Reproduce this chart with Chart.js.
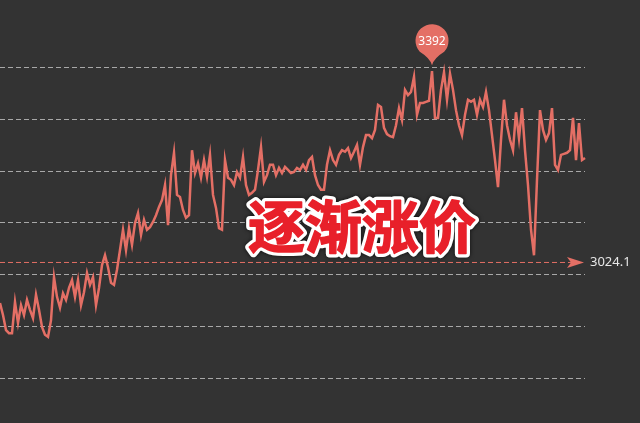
<!DOCTYPE html>
<html>
<head>
<meta charset="utf-8">
<script src="https://cdn.jsdelivr.net/npm/chart.js@4.4.1/dist/chart.umd.min.js"></script>
<style>
  html, body { margin: 0; padding: 0; background: #333333; }
  #wrap { width: 640px; height: 423px; position: relative; }
</style>
</head>
<body>
<div id="wrap"><canvas id="chart"></canvas></div>
<script>
// daily prices
const prices = [
  2946, 2923, 2894, 2888, 2888, 2948, 2908, 2942, 2923, 2952,
  2933, 2917, 2962, 2933, 2900, 2885, 2881, 2913, 2996, 2958,
  2937, 2965, 2952, 2975, 2990, 2958, 2990, 2942, 2967, 3004,
  2981, 2996, 2942, 2975, 3019, 3038, 3015, 2985, 2981, 3010,
  3048, 3087, 3048, 3090, 3058, 3100, 3119, 3077, 3106, 3087,
  3092, 3102, 3115, 3131, 3144, 3173, 3096, 3192, 3235, 3154,
  3150, 3125, 3110, 3115, 3240, 3196, 3215, 3187, 3221, 3189,
  3231, 3154, 3129, 3090, 3087, 3221, 3187, 3183, 3173, 3198,
  3187, 3227, 3173, 3154, 3158, 3164, 3202, 3246, 3179, 3192,
  3212, 3212, 3192, 3206, 3196, 3208, 3202, 3196, 3198, 3206,
  3202, 3212, 3202, 3221, 3227, 3192, 3173, 3164, 3164, 3212,
  3240, 3221, 3212, 3231, 3240, 3237, 3244, 3225, 3237, 3250,
  3212, 3246, 3269, 3269, 3263, 3279, 3327, 3323, 3283, 3271,
  3267, 3265, 3288, 3321, 3298, 3356, 3346, 3352, 3381, 3308,
  3331, 3331, 3333, 3335, 3392, 3302, 3302, 3356, 3390, 3337,
  3387, 3356, 3317, 3288, 3269, 3308, 3337, 3333, 3337, 3308,
  3337, 3323, 3352, 3317, 3269, 3221, 3169, 3260, 3337, 3288,
  3260, 3240, 3313, 3263, 3321, 3240, 3173, 3087, 3038, 3183,
  3317, 3279, 3260, 3273, 3321, 3212, 3202, 3231, 3233, 3235,
  3240, 3302, 3221, 3292, 3221, 3225,
];
const days = prices.map((_, i) => String(i + 1));
const gridTicks = [2800, 2900, 3000, 3100, 3200, 3300, 3400];
const averagePrice = 3024.1;
const titleText = "逐渐涨价";

const lineColor = "#e46f65";

const overlayPlugin = {
  id: "overlay",
  beforeDraw(chart) {
    const { ctx, width, height } = chart;
    ctx.save();
    ctx.fillStyle = "#333333";
    ctx.fillRect(0, 0, width, height);
    ctx.restore();
  },
  afterDatasetsDraw(chart) {
    const { ctx, chartArea, scales } = chart;
    const x = scales.x;
    const y = scales.y;

    // average line with arrow
    const ay = y.getPixelForValue(averagePrice);
    ctx.save();
    ctx.strokeStyle = lineColor;
    ctx.lineWidth = 1;
    ctx.setLineDash([5, 3]);
    ctx.beginPath();
    ctx.moveTo(chartArea.left, ay);
    ctx.lineTo(chartArea.right - 14, ay);
    ctx.stroke();
    ctx.setLineDash([]);
    const tip = chartArea.right - 1;
    ctx.fillStyle = lineColor;
    ctx.beginPath();
    ctx.moveTo(tip, ay);
    ctx.lineTo(tip - 17, ay - 5.5);
    ctx.lineTo(tip - 13, ay);
    ctx.lineTo(tip - 17, ay + 5.5);
    ctx.closePath();
    ctx.fill();
    ctx.fillStyle = "#e6e6e6";
    ctx.font = "13px 'Noto Sans', sans-serif";
    ctx.textBaseline = "middle";
    ctx.textAlign = "left";
    ctx.fillText(String(averagePrice), tip + 6, ay);
    ctx.restore();

    // max pin
    const maxVal = Math.max(...prices);
    const maxIdx = prices.indexOf(maxVal);
    const px = x.getPixelForValue(maxIdx);
    const ty = y.getPixelForValue(maxVal) - 6;
    const r = 16.5;
    const cy = ty - 24.5;
    const th = Math.acos(r / (ty - cy));
    ctx.save();
    ctx.fillStyle = lineColor;
    ctx.beginPath();
    ctx.arc(px, cy, r, Math.PI / 2 + th, Math.PI * 2.5 - th);
    const rx = px + r * Math.cos(Math.PI / 2 - th);
    const ry = cy + r * Math.sin(Math.PI / 2 - th);
    ctx.quadraticCurveTo(px + 2, ty - 7, px, ty);
    ctx.quadraticCurveTo(px - 2, ty - 7, px - (rx - px), ry);
    ctx.closePath();
    ctx.fill();
    ctx.fillStyle = "#ffffff";
    ctx.font = "12px 'Noto Sans', sans-serif";
    ctx.textAlign = "center";
    ctx.textBaseline = "middle";
    ctx.fillText(String(maxVal), px, cy + 1);
    ctx.restore();

    // big caption
    ctx.save();
    ctx.font = "bold 57px 'Noto Sans CJK SC', sans-serif";
    ctx.textAlign = "center";
    ctx.textBaseline = "middle";
    ctx.lineJoin = "round";
    ctx.shadowColor = "rgba(0,0,0,0.7)";
    ctx.shadowBlur = 4;
    ctx.lineWidth = 8;
    ctx.strokeStyle = "#ffffff";
    ctx.strokeText(titleText, 362, 226);
    ctx.shadowColor = "transparent";
    ctx.fillStyle = "#e8202a";
    ctx.lineWidth = 1.5;
    ctx.strokeStyle = "#e8202a";
    ctx.fillText(titleText, 362, 226);
    ctx.strokeText(titleText, 362, 226);
    ctx.restore();
  },
};

new Chart(document.getElementById("chart"), {
  type: "line",
  data: {
    labels: days,
    datasets: [
      {
        data: prices,
        borderColor: lineColor,
        borderWidth: 2.5,
        pointRadius: 0,
        tension: 0,
        fill: false,
      },
    ],
  },
  options: {
    responsive: true,
    maintainAspectRatio: false,
    animation: false,
    layout: { padding: { left: 0, right: 55, top: 0, bottom: 0 } },
    plugins: {
      legend: { display: false },
      tooltip: { enabled: false },
    },
    scales: {
      x: { display: false, offset: false },
      y: {
        min: 2715.38,
        max: 3528.85,
        afterBuildTicks: (scale) => {
          scale.ticks = gridTicks.map((value) => ({ value }));
        },
        border: { display: false, dash: [5, 3] },
        ticks: { display: false },
        grid: {
          color: "#a8a8a8",
          lineWidth: 1,
          drawTicks: false,
          tickLength: 0,
        },
        afterFit: (scale) => { scale.width = 0; },
      },
    },
  },
  plugins: [overlayPlugin],
});
</script>
</body>
</html>
